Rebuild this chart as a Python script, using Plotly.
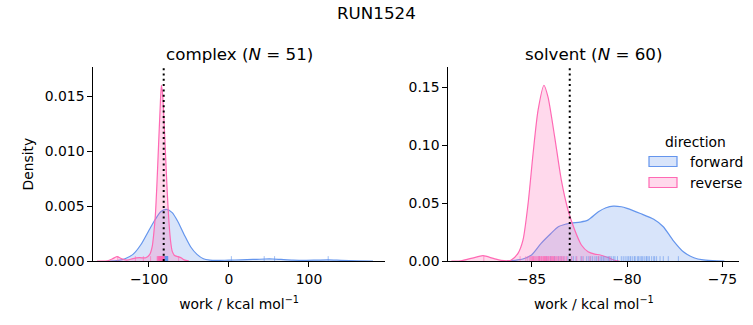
import plotly.graph_objects as go

# ---------------- data ----------------
# complex leg: KDE curves (work, density)
cx_fwd_x = [-150, -140, -130, -120, -110, -100, -92, -85, -78, -71, -64, -56, -48, -40, -32, -24,
            -15, 0, 15, 30, 45, 55, 65, 80, 95, 110, 124, 140, 160, 180]
cx_fwd_d = [0, 0.00003, 0.0002, 0.0006, 0.0015, 0.0028, 0.0038, 0.0045, 0.0047, 0.0044, 0.0036,
            0.0024, 0.0013, 0.0006, 0.0002, 0.00008, 0.00005, 0.00008, 0.0001, 0.00014, 0.00018,
            0.00018, 0.00014, 0.00008, 0.00006, 0.00008, 0.0001, 0.00006, 0.00002, 0]
cx_rev_x = [-165, -152, -146, -140, -134, -128, -120, -112, -104, -99, -96, -94, -92, -90, -88,
            -86, -84.5, -83, -81, -79, -77, -75, -73, -71, -68, -64, -60, -56, -50]
cx_rev_d = [0, 0.00002, 0.00018, 0.0004, 0.0002, 0.00008, 0.00022, 0.0003, 0.0003, 0.0006, 0.0013,
            0.0025, 0.0042, 0.0071, 0.0106, 0.0140, 0.0160, 0.0152, 0.0125, 0.0092, 0.0060, 0.0035,
            0.0018, 0.0009, 0.0005, 0.0004, 0.0003, 0.0001, 0]

# solvent leg: KDE curves
sv_fwd_x = [-86.3, -85.8, -85.5, -85.0, -84.5, -84.0, -83.6, -83.2, -82.9, -82.45, -82.05, -81.5,
            -81.1, -80.72, -80.3, -80.0, -79.3, -78.6, -78.1, -77.6, -77.05, -76.5, -76.0, -75.3, -74.9]
sv_fwd_d = [0, 0.0008, 0.0015, 0.0052, 0.0152, 0.0235, 0.0296, 0.0318, 0.0328, 0.0336, 0.0353,
            0.0425, 0.0460, 0.0474, 0.0468, 0.0454, 0.0410, 0.0360, 0.0296, 0.0181, 0.0080,
            0.0028, 0.0009, 0.0001, 0]
sv_rev_x = [-89.2, -88.7, -88.1, -87.54, -87.0, -86.6, -86.2, -86.06, -85.71, -85.45, -85.18,
            -84.92, -84.66, -84.35, -84.14, -83.79, -83.44, -83.09, -82.74, -82.39, -82.04, -81.69,
            -81.4, -81.0, -80.7, -80.4]
sv_rev_d = [0, 0.0002, 0.0025, 0.0046, 0.0022, 0.0006, 0.0003, 0.0009, 0.0066, 0.018, 0.0497,
            0.0928, 0.130, 0.1517, 0.1416, 0.1072, 0.0698, 0.044, 0.0267, 0.0138, 0.0080, 0.0060,
            0.0052, 0.0030, 0.0009, 0]

# rug samples (individual work values)
cx_fwd_rug = [-83.5, -82.8, -82.1, -81.7, -81.4, -81.0, -80.8, -80.5, -80.2, -80.0, -79.8, -79.6,
              -79.4, -79.2, -79.0, -78.9, -78.7, -78.5, -78.3, -78.1, -78.0, -77.8, -77.6, -77.4,
              -77.3, -77.1, -76.9, -76.8, -76.6, -80.9, -79.9, -79.1, -78.6, -77.9, -81.2, -80.4,
              -79.5, -78.8, -77.7, -82.4, -81.9, -80.6, -79.3, -78.2, -77.2, -76.7, -81.5,
              3, 44, 57, 124]
cx_rev_rug = [-89.8, -89.2, -88.7, -88.3, -88.0, -87.6, -87.3, -87.0, -86.7, -86.4, -86.2, -85.9,
              -85.7, -85.5, -85.2, -85.0, -84.8, -84.6, -84.4, -84.2, -84.0, -83.8, -83.6, -83.4,
              -83.2, -83.0, -82.8, -82.6, -82.4, -82.2, -82.0, -86.9, -85.4, -84.9, -84.5, -84.1,
              -83.7, -83.3, -85.8, -86.1, -84.7, -83.9, -82.9, -81.6, -81.2, -81.0,
              -139, -117, -107, -98, -63]
sv_fwd_rug = [-84.6, -84.2, -84.0, -83.6, -83.3, -83.1, -82.81, -82.67, -82.41, -82.11, -81.80,
              -81.68, -81.59, -81.41, -81.33, -81.20, -81.10, -80.89, -80.63, -80.10, -79.93,
              -79.84, -79.70, -79.58, -79.46, -79.32, -79.18, -78.97, -78.83, -78.71, -78.45,
              -78.27, -77.84, -77.31, -81.5, -81.0, -80.8, -80.5, -80.3, -80.0, -79.6, -79.4,
              -79.0, -78.6, -78.1, -81.9, -82.3, -82.9, -83.8, -80.7, -79.8, -79.1, -78.9,
              -80.2, -81.25, -80.95, -79.25, -78.55, -82.0, -83.45]
sv_rev_rug = [-87.5, -85.6, -85.3, -85.2, -85.1, -85.0, -84.95, -84.9, -84.85, -84.8, -84.75,
              -84.7, -84.65, -84.6, -84.55, -84.5, -84.45, -84.4, -84.35, -84.3, -84.25, -84.2,
              -84.15, -84.1, -84.05, -84.0, -83.95, -83.9, -83.85, -83.8, -83.75, -83.7, -83.6,
              -83.5, -83.4, -83.3, -83.2, -83.16, -84.62, -84.48, -84.28, -84.12, -83.88, -83.66,
              -85.05, -84.92, -84.38, -84.22, -83.55, -83.45, -83.35, -82.9, -82.63, -82.37,
              -81.94, -81.5, -80.9, -84.58, -84.32, -83.98]

ref_line = [-81.6, -83.0]          # dotted reference lines (complex, solvent)
titles = ["complex (<i>N</i> = 51)", "solvent (<i>N</i> = 60)"]
directions = ["forward", "reverse"]
x_ticks = [[-100, 0, 100], [-85, -80, -75]]
y_ticks = [[0, 0.005, 0.010, 0.015], [0, 0.05, 0.10, 0.15]]

# ---------------- styling ----------------
W, H = 753, 325
FONT = "DejaVu Sans"
line_col = {"forward": "#6495ED", "reverse": "#FF69B4"}
fill_col = {"forward": "rgba(100,149,237,0.25)", "reverse": "rgba(255,105,180,0.25)"}
rug_col = {"forward": "rgba(100,149,237,0.6)", "reverse": "rgba(255,105,180,0.6)"}

x_ranges = [[-169.6, 195.0], [-89.36, -74.12]]
y_ranges = [[0, 0.01764], [0, 0.1672]]
x_domains = [[93.3 / W, 385 / W], [448.3 / W, 739.3 / W]]
y_domain = [1 - 261 / H, 1 - 67.3 / H]

curves = [
    {"forward": (cx_fwd_x, cx_fwd_d), "reverse": (cx_rev_x, cx_rev_d)},
    {"forward": (sv_fwd_x, sv_fwd_d), "reverse": (sv_rev_x, sv_rev_d)},
]
rugs = [
    {"forward": cx_fwd_rug, "reverse": cx_rev_rug},
    {"forward": sv_fwd_rug, "reverse": sv_rev_rug},
]

fig = go.Figure()

for i in range(2):
    xa = "x" if i == 0 else "x2"
    ya = "y" if i == 0 else "y2"
    for d in directions:
        xs, ds = curves[i][d]
        fig.add_trace(go.Scatter(
            x=xs, y=ds, xaxis=xa, yaxis=ya, mode="lines", name=d,
            line=dict(color=line_col[d], width=1.2, shape="spline", smoothing=0.7),
            fill="tozeroy", fillcolor=fill_col[d], showlegend=False, hoverinfo="skip"))
    rug_h = 0.025 * y_ranges[i][1]
    for d in directions:
        rx, ry = [], []
        for v in rugs[i][d]:
            rx += [v, v, None]
            ry += [0, rug_h, None]
        fig.add_trace(go.Scatter(
            x=rx, y=ry, xaxis=xa, yaxis=ya, mode="lines",
            line=dict(color=rug_col[d], width=1), showlegend=False, hoverinfo="skip"))
    # dotted reference line
    fig.add_shape(type="line", xref=xa, yref=f"{ya} domain", x0=ref_line[i], x1=ref_line[i],
                  y0=0, y1=1, line=dict(color="black", width=2, dash="2px,3.3px"))

axis_common = dict(showline=True, linecolor="black", linewidth=1, ticks="outside", ticklen=5,
                   tickwidth=1, tickcolor="black", showgrid=False, zeroline=False,
                   tickfont=dict(family=FONT, size=13.9, color="black"), mirror=False)

xlabel = "work / kcal mol<sup>−1</sup>"
fig.update_layout(
    width=W, height=H, margin=dict(l=0, r=0, t=0, b=0),
    paper_bgcolor="white", plot_bgcolor="white", template="none",
    font=dict(family=FONT, size=13.9, color="black"),
    showlegend=False,
    xaxis=dict(domain=x_domains[0], range=x_ranges[0], tickvals=x_ticks[0], anchor="y",
               title=dict(text=xlabel, font=dict(size=13.9), standoff=13), **axis_common),
    yaxis=dict(domain=y_domain, range=y_ranges[0], tickvals=y_ticks[0], tickformat=".3f",
               anchor="x", title=dict(text="Density", font=dict(size=13.9), standoff=7),
               **axis_common),
    xaxis2=dict(domain=x_domains[1], range=x_ranges[1], tickvals=x_ticks[1], anchor="y2",
                title=dict(text=xlabel, font=dict(size=13.9), standoff=13), **axis_common),
    yaxis2=dict(domain=y_domain, range=y_ranges[1], tickvals=y_ticks[1], tickformat=".2f",
                anchor="x2", **axis_common),
)

# suptitle and subplot titles
fig.add_annotation(text="RUN1524", xref="paper", yref="paper", x=0.5, y=1 - 13 / H,
                   showarrow=False, font=dict(size=16.7), xanchor="center", yanchor="middle")
for i in range(2):
    fig.add_annotation(text=titles[i], xref="paper", yref="paper",
                       x=(x_domains[i][0] + x_domains[i][1]) / 2, y=1 - 54 / H,
                       showarrow=False, font=dict(size=16.7), xanchor="center", yanchor="middle")

# legend (drawn as patches + text, matplotlib style)
fig.add_annotation(text="direction", xref="paper", yref="paper", x=695 / W, y=1 - 142 / H,
                   showarrow=False, font=dict(size=13.9), xanchor="center", yanchor="middle")
leg_rows = [161.5, 182.5]
for d, yc in zip(directions, leg_rows):
    fig.add_shape(type="rect", xref="paper", yref="paper", x0=649 / W, x1=677 / W,
                  y0=1 - (yc + 5) / H, y1=1 - (yc - 5) / H,
                  line=dict(color=line_col[d], width=1.2), fillcolor=fill_col[d])
    fig.add_annotation(text=d, xref="paper", yref="paper", x=688 / W, y=1 - yc / H,
                       showarrow=False, font=dict(size=13.9), xanchor="left", yanchor="middle")

fig.write_html("out.html", config={"displayModeBar": False},
               post_script="document.body.style.margin='0px';document.body.style.padding='0px';")
